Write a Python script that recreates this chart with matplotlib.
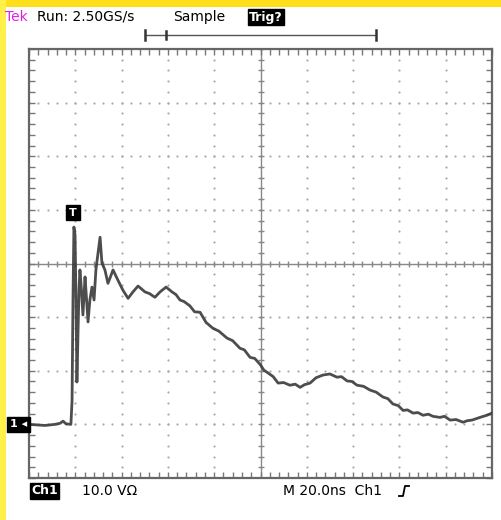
import numpy as np
import matplotlib
matplotlib.use('Agg')
import matplotlib.pyplot as plt
from matplotlib.patches import Rectangle

# Ch1 capture: time in ns from trigger, volts (10 V/div, 20 ns/div)
time_ns = [-20.0, -13.1, -8.8, -6.6, -5.3, -4.0, -1.9, -1.4, -1.0, -0.6,
           -0.1, 0.3, 0.7, 1.2, 1.6, 2.0, 2.5, 3.3, 4.2, 4.6,
           5.5, 6.3, 7.2, 8.1, 8.9, 9.8, 10.7, 11.5, 12.8, 14.1,
           15.0, 16.3, 18.4, 20.6, 22.8, 24.9, 27.1, 30.1, 32.0, 34.4,
           36.6, 39.2, 41.8, 43.5, 45.2, 47.0, 49.5, 51.5, 53.9, 56.5,
           59.5, 62.0, 65.5, 68.0, 71.1, 73.0, 75.5, 77.5, 79.8, 81.5,
           83.2, 85.5, 87.6, 90.0, 92.7, 95.0, 97.1, 99.0, 101.4, 104.0,
           107.0, 110.0, 113.0, 115.0, 117.4, 119.5, 121.7, 124.5, 127.3, 130.0,
           132.9, 135.0, 137.2, 139.5, 141.6, 143.5, 145.9, 148.0, 150.2, 152.5,
           154.5, 157.5, 159.5, 161.9, 164.5, 167.5, 169.5, 171.4, 174.8, 177.8,
           180.0]
volts = [0.0, -0.2, 0.0, 0.2, 0.6, 0.1, 0.0, 4.5, 23.2, 36.8,
         35.3, 23.2, 7.9, 17.6, 25.0, 28.8, 26.0, 20.4, 27.5, 25.0,
         19.1, 23.2, 25.6, 23.2, 28.8, 31.9, 34.9, 30.1, 28.8, 26.3,
         27.3, 28.8, 26.9, 25.0, 23.5, 24.7, 25.8, 24.7, 24.4, 23.7,
         24.7, 25.6, 24.7, 24.2, 23.2, 22.9, 22.1, 21.0, 20.9, 19.0,
         17.9, 17.4, 16.1, 15.6, 14.2, 13.9, 12.5, 12.3, 11.2, 10.1,
         9.6, 8.9, 7.7, 7.8, 7.3, 7.5, 6.9, 7.4, 7.7, 8.7,
         9.2, 9.4, 8.8, 8.9, 8.1, 8.0, 7.3, 7.1, 6.4, 6.0,
         5.1, 4.8, 3.8, 3.5, 2.6, 2.7, 2.1, 2.2, 1.7, 1.9,
         1.5, 1.3, 1.5, 0.8, 0.9, 0.4, 0.7, 0.8, 1.3, 1.7,
         2.1]

ns_per_div = 20.0
v_per_div = 10.0
t_min, t_max = -20.0, 180.0
v_min, v_max = -10.0, 70.0

W, H = 501, 520
fig = plt.figure(figsize=(W / 100, H / 100), dpi=100)
fig.patch.set_facecolor('white')

# yellow frame strips
fig.add_artist(Rectangle((0, 1 - 7 / H), 1, 7 / H, transform=fig.transFigure,
                         color='#ffdf1a', lw=0, zorder=0))
fig.add_artist(Rectangle((0, 0), 6 / W, 1, transform=fig.transFigure,
                         color='#fff04a', lw=0, zorder=0))

ax = fig.add_axes([29 / W, 1 - 478 / H, 463 / W, 429 / H])
ax.set_xlim(t_min, t_max)
ax.set_ylim(v_min, v_max)
ax.set_facecolor('white')
for s in ax.spines.values():
    s.set_color('#666666')
    s.set_linewidth(1.6)

# border ticks every 1/5 division
ax.set_xticks(np.arange(t_min, t_max + 0.1, ns_per_div / 5))
ax.set_yticks(np.arange(v_min, v_max + 0.1, v_per_div / 5))
ax.tick_params(direction='in', length=4, width=1, color='#777777',
               top=True, right=True, labelbottom=False, labelleft=False)

# dotted graticule
xs_minor = np.arange(t_min, t_max + 0.1, ns_per_div / 5)
ys_minor = np.arange(v_min, v_max + 0.1, v_per_div / 5)
for xk in np.arange(t_min + ns_per_div, t_max, ns_per_div):
    ax.scatter(np.full_like(ys_minor, xk), ys_minor, s=2.5, c='#aaaaaa',
               lw=0, zorder=1)
for yk in np.arange(v_min + v_per_div, v_max, v_per_div):
    ax.scatter(xs_minor, np.full_like(xs_minor, yk), s=2.5, c='#aaaaaa',
               lw=0, zorder=1)

# center crosshair with 1/5 division ticks
t_mid = (t_min + t_max) / 2
v_mid = (v_min + v_max) / 2
ax.axhline(v_mid, color='#888888', lw=1, zorder=1)
ax.axvline(t_mid, color='#888888', lw=1, zorder=1)
ax.plot(xs_minor, np.full_like(xs_minor, v_mid), ls='none', marker='|',
        ms=5, color='#888888', zorder=1)
ax.plot(np.full_like(ys_minor, t_mid), ys_minor, ls='none', marker='_',
        ms=5, color='#888888', zorder=1)

# waveform
ax.plot(time_ns, volts, color='#3a3a3a', lw=2.0, alpha=0.9, zorder=3,
        solid_joinstyle='round')

# trigger position marker
ax.text(-1.0, 39.5, 'T', color='white', fontsize=8, fontweight='bold',
        ha='center', va='center', zorder=5, clip_on=False,
        bbox=dict(boxstyle='square,pad=0.25', fc='black', ec='black'))
# ground reference marker
ax.text(-20.8, 0.0, '1 \u25c2', color='white', fontsize=8, fontweight='bold',
        ha='right', va='center', zorder=5, clip_on=False,
        bbox=dict(boxstyle='square,pad=0.25', fc='black', ec='black'))

# header line
fs = 10
fig.text(5 / W, 1 - 17 / H, 'Tek', color='#e020e0', fontsize=fs, va='center')
fig.text(37 / W, 1 - 17 / H, 'Run: 2.50GS/s', color='black', fontsize=fs,
         va='center')
fig.text(173 / W, 1 - 17 / H, 'Sample', color='black', fontsize=fs,
         va='center')
fig.text(249 / W, 1 - 17 / H, 'Trig?', color='white', fontsize=9,
         fontweight='bold', va='center',
         bbox=dict(boxstyle='square,pad=0.1', fc='black', ec='black'))

# record-length bracket
yb = 1 - 35 / H
fig.add_artist(plt.Line2D([145 / W, 376 / W], [yb, yb], color='#555555',
                          lw=1, transform=fig.transFigure))
for xb in (145, 376):
    fig.add_artist(plt.Line2D([xb / W, xb / W], [yb - 5 / H, yb + 5 / H],
                              color='#333333', lw=1.8,
                              transform=fig.transFigure))
fig.add_artist(plt.Line2D([166 / W, 166 / W], [yb - 4 / H, yb + 4 / H],
                          color='#333333', lw=1.8, transform=fig.transFigure))

# footer line
fig.text(31 / W, 1 - 491 / H, 'Ch1', color='white', fontsize=9,
         fontweight='bold', va='center',
         bbox=dict(boxstyle='square,pad=0.1', fc='black', ec='black'))
fig.text(82 / W, 1 - 491 / H, '10.0 V\u03a9', color='black', fontsize=fs,
         va='center')
fig.text(283 / W, 1 - 491 / H, 'M 20.0ns  Ch1', color='black', fontsize=fs,
         va='center')
# rising-edge trigger slope icon
fig.add_artist(plt.Line2D([399 / W, 403 / W, 405 / W, 409 / W],
                          [1 - 496 / H, 1 - 496 / H, 1 - 486 / H, 1 - 486 / H],
                          color='black', lw=1.3, transform=fig.transFigure))

fig.savefig('out.png', dpi=100)
